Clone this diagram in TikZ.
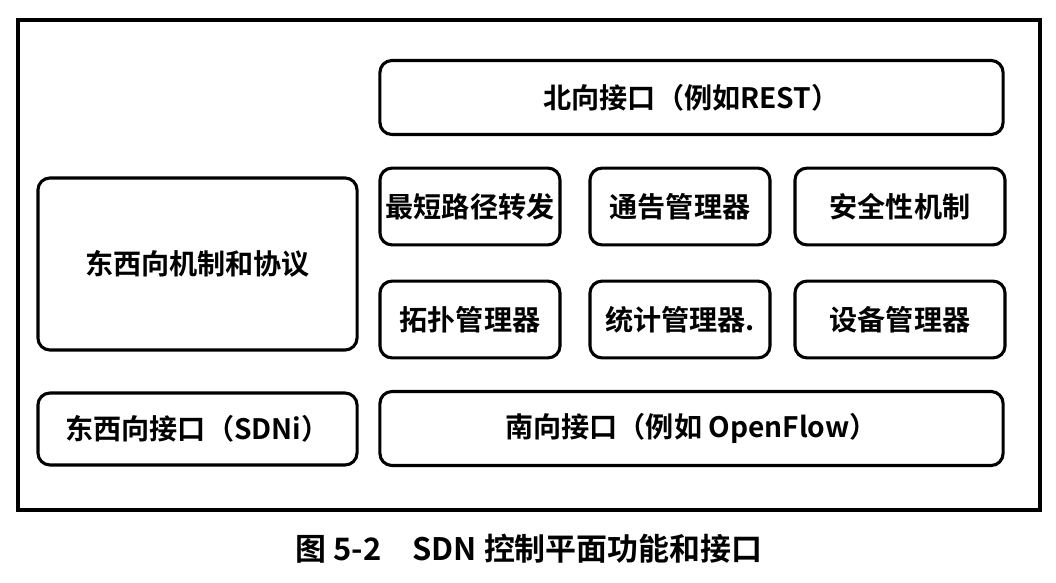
\documentclass[tikz,border=0pt]{standalone}
\usepackage{fontspec}
\setmainfont{Noto Sans CJK SC}[BoldFont={* Bold}]
\newfontfamily\cjk{Noto Sans CJK SC}[BoldFont={* Bold}]

\begin{document}
\begin{tikzpicture}[
    x=0.025cm, y=-0.025cm,
    font=\cjk\bfseries\fontsize{20}{24}\selectfont,
    blk/.style ={draw=black, line width=2.2pt, rounded corners=0.3cm,
                 align=center, inner sep=0pt},
    wide/.style={blk, minimum width=15.575cm, minimum height=1.85cm},
    fn/.style  ={blk, minimum width=4.5cm, minimum height=1.92cm},
    side/.style={blk, minimum width=7.975cm},
  ]
  \useasboundingbox (0,0) rectangle (1056,583);

  % --- outer frame ---
  \draw[line width=2.4pt] (18,20) rectangle (1040,510);

  % --- interfaces ---
  \node[wide] (north) at (691.5,97.5)  {北向接口（例如REST）};
  \node[wide] (south) at (691.5,428.5) {南向接口（例如 OpenFlow）};

  % --- control functions ---
  \node[fn] (spf)  at (470,206.5) {最短路径转发};
  \node[fn] (adv)  at (680,206.5) {通告管理器};
  \node[fn, minimum width=5.25cm] (sec) at (900,206.5) {安全性机制};
  \node[fn] (topo) at (470,319.5) {拓扑管理器};
  \node[fn] (stat) at (680,319.5) {统计管理器.};
  \node[fn, minimum width=5.25cm] (dev) at (900,319.5) {设备管理器};

  % --- east-west ---
  \node[side, minimum height=4.3cm] (ewm) at (197.5,264) {东西向机制和协议};
  \node[side, minimum height=1.8cm] (ewi) at (197.5,429) {东西向接口（SDNi）};

  % --- caption ---
  \node[font=\cjk\bfseries\fontsize{22}{26}\selectfont] (cap) at (529,549)
    {图 5-2\quad SDN 控制平面功能和接口};
\end{tikzpicture}
\end{document}
